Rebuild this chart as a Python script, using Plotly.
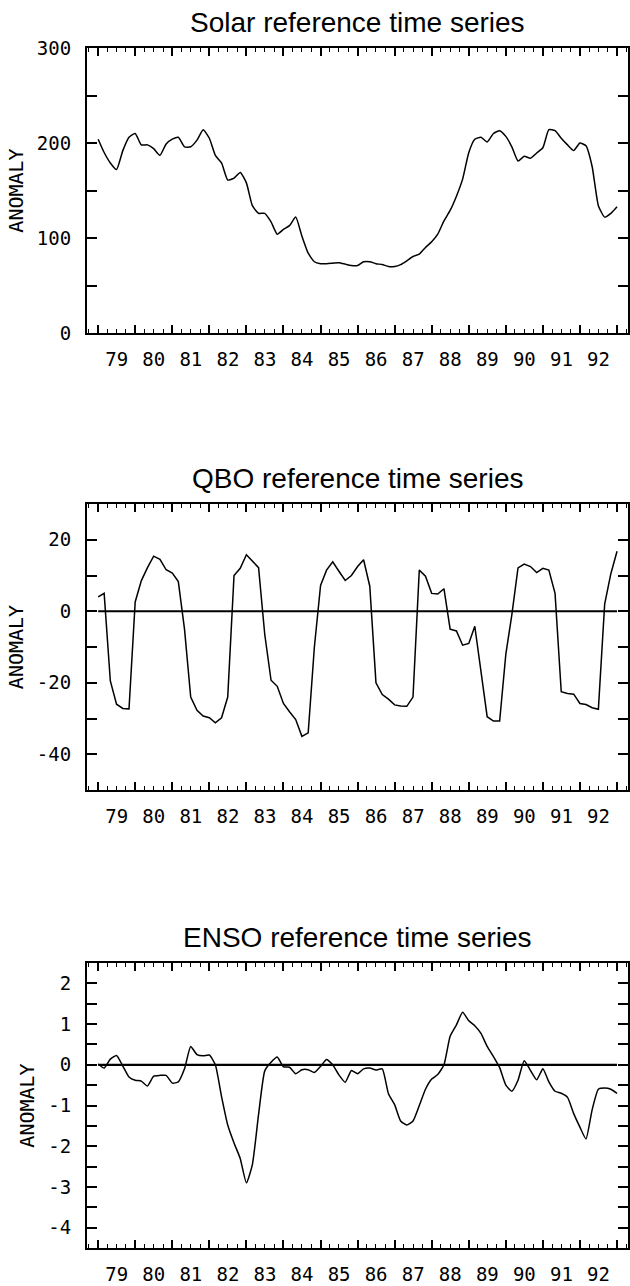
import pandas as pd
import plotly.graph_objects as go

# ---------------- data (bimonthly samples) ----------------
dates = pd.date_range("1979-01-01", periods=85, freq="2MS")

solar = [204, 190, 179, 172, 192, 206, 210, 198, 198, 194,
         187, 199, 204, 206, 196, 196, 203, 214, 205, 187,
         179, 161, 163, 169, 158, 134, 126, 126, 117, 104,
         109, 113, 122, 102, 84, 75, 73, 73, 73.5, 74,
         72.5, 71, 71, 75, 75, 73, 72, 70, 70, 72,
         76, 80.5, 83, 90, 96, 104, 118, 129, 144, 162,
         190, 204, 206, 201, 210, 213, 207, 196, 181, 186,
         184, 189.5, 195, 214, 213, 205, 198, 192, 200, 197,
         175, 134, 122, 126, 133]

qbo = [4, 5, -19.5, -26, -27.2, -27.3, 2.6, 8.5, 12.2, 15.4,
       14.5, 11.6, 10.7, 8.3, -5, -24, -27.7, -29.3, -29.8, -31.2,
       -29.8, -24, 10, 12, 15.8, 14, 12.2, -6.5, -19.3, -21,
       -25.8, -28.1, -30.3, -35, -34, -10, 7.2, 11.5, 13.8, 11.2,
       8.6, 10, 12.5, 14.4, 7, -20, -23.3, -24.6, -26.2, -26.5,
       -26.6, -24, 11.5, 9.8, 5, 4.8, 6.3, -5, -5.5, -9.5,
       -9, -4.2, -17, -29.5, -30.7, -30.7, -12, -1, 12.1, 13.2,
       12.5, 10.8, 12, 11.5, 5, -22.5, -23, -23.2, -25.8, -26.1,
       -27, -27.4, 2, 10.5, 16.8]

enso = [0.02, -0.08, 0.14, 0.23, -0.03, -0.3, -0.38, -0.4, -0.52, -0.28,
        -0.26, -0.26, -0.45, -0.42, -0.1, 0.45, 0.25, 0.22, 0.24, 0.0,
        -0.78, -1.48, -1.92, -2.3, -2.9, -2.45, -1.22, -0.15, 0.06, 0.19,
        -0.05, -0.06, -0.22, -0.12, -0.12, -0.19, -0.04, 0.13, 0.0, -0.25,
        -0.43, -0.14, -0.22, -0.1, -0.08, -0.13, -0.1, -0.71, -0.98, -1.38,
        -1.48, -1.38, -1.0, -0.6, -0.35, -0.24, 0.0, 0.7, 0.98, 1.29,
        1.08, 0.96, 0.77, 0.45, 0.2, -0.07, -0.5, -0.65, -0.38, 0.1,
        -0.14, -0.37, -0.1, -0.42, -0.65, -0.7, -0.8, -1.2, -1.53, -1.82,
        -1.1, -0.6, -0.57, -0.6, -0.7]

titles = ["Solar reference time series", "QBO reference time series", "ENSO reference time series"]

solar_ticks = [0, 50, 100, 150, 200, 250, 300]
solar_labels = ["0", "", "100", "", "200", "", "300"]
qbo_ticks = [-50, -40, -30, -20, -10, 0, 10, 20, 30]
qbo_labels = ["", "-40", "", "-20", "", "0", "", "20", ""]
enso_ticks = [-4.5, -4, -3.5, -3, -2.5, -2, -1.5, -1, -0.5, 0, 0.5, 1, 1.5, 2, 2.5]
enso_labels = ["", "-4", "", "-3", "", "-2", "", "-1", "", "0", "", "1", "", "2", ""]

# ---------------- figure ----------------
MONO = "DejaVu Sans Mono"
SANS = "Liberation Sans, Arial, sans-serif"

fig = go.Figure()
series = [solar, qbo, enso]
shapes = ["spline", "linear", "spline"]
for i, vals in enumerate(series):
    xa = "x" if i == 0 else f"x{i+1}"
    ya = "y" if i == 0 else f"y{i+1}"
    if i > 0:
        fig.add_trace(go.Scatter(x=[dates[0], dates[-1]], y=[0, 0], mode="lines",
                                 line=dict(color="black", width=2.2),
                                 xaxis=xa, yaxis=ya, showlegend=False, hoverinfo="skip"))
    fig.add_trace(go.Scatter(x=dates, y=vals, mode="lines",
                             line=dict(color="black", width=1.5, shape=shapes[i],
                                       smoothing=0.5 if shapes[i] == "spline" else None),
                             xaxis=xa, yaxis=ya, showlegend=False))

xcommon = dict(
    type="date", range=["1978-09-13", "1993-04-19"],
    tickmode="linear", tick0="1979-01-01", dtick="M12",
    ticklabelmode="period", tickformat="%y",
    ticks="inside", ticklen=8, tickwidth=1.5, tickcolor="black",
    minor=dict(tick0="1979-01-01", dtick="M3", ticks="inside", ticklen=4,
               tickwidth=1, tickcolor="black", showgrid=False),
    showline=True, linewidth=2, linecolor="black", mirror="ticks",
    showgrid=False, zeroline=False, automargin=False,
    tickfont=dict(family=MONO, size=19, color="black"),
    ticklabelstandoff=8,
)

def ycommon(rng, tv, tt, dom, anchor):
    return dict(
        range=rng, domain=dom, anchor=anchor, automargin=False,
        tickmode="array", tickvals=tv, ticktext=tt,
        ticks="inside", ticklen=10, tickwidth=1.5, tickcolor="black",
        showline=True, linewidth=2, linecolor="black", mirror="ticks",
        showgrid=False, zeroline=False,
        tickfont=dict(family=MONO, size=19, color="black"),
        ticklabelstandoff=10,
        title=dict(text="ANOMALY", font=dict(family=MONO, size=20, color="black"), standoff=8),
    )

fig.update_layout(
    width=630, height=1286,
    margin=dict(l=87, r=2, t=48, b=38),
    paper_bgcolor="white", plot_bgcolor="white",
    xaxis=dict(xcommon, anchor="y"),
    xaxis2=dict(xcommon, anchor="y2"),
    xaxis3=dict(xcommon, anchor="y3"),
    yaxis=ycommon([0, 300], solar_ticks, solar_labels, [0.7625, 1.0], "x"),
    yaxis2=ycommon([-50, 30], qbo_ticks, qbo_labels, [0.38167, 0.62], "x2"),
    yaxis3=ycommon([-4.5, 2.5], enso_ticks, enso_labels, [0.0, 0.2375], "x3"),
)

for i, t in enumerate(titles):
    sfx = "" if i == 0 else str(i + 1)
    fig.add_annotation(text=t, xref=f"x{sfx} domain", yref=f"y{sfx} domain",
                       x=0.5, y=1, yshift=26, xanchor="center", yanchor="middle",
                       showarrow=False, font=dict(family=SANS, size=28, color="black"))

fig.write_html("out.html", config={"displayModeBar": False},
               post_script="document.body.style.margin='0';document.body.style.padding='0';")
